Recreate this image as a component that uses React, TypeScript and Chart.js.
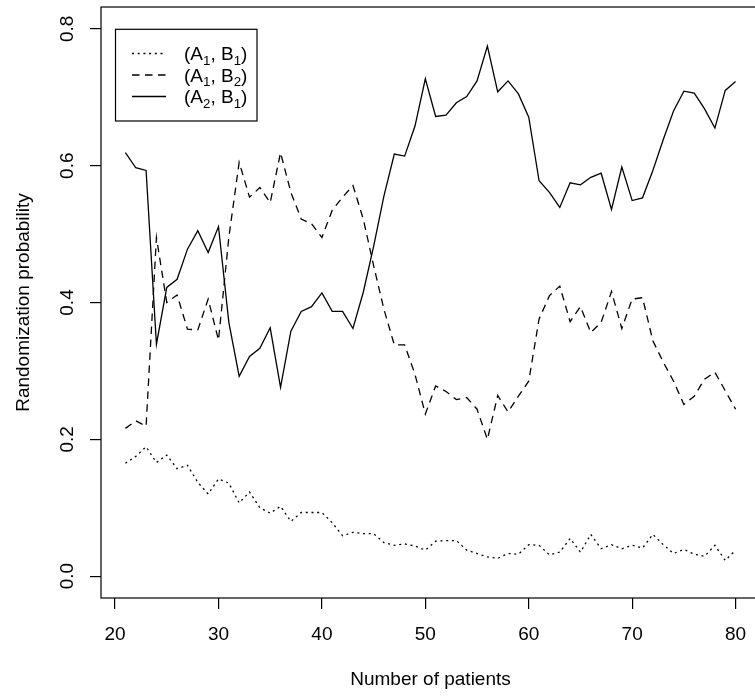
import React, { useEffect, useRef } from "react";
import { Chart, registerables } from "chart.js";

Chart.register(...registerables);

// ---------- data ----------
const patients = [
  21, 22, 23, 24, 25, 26, 27, 28, 29, 30,
  31, 32, 33, 34, 35, 36, 37, 38, 39, 40,
  41, 42, 43, 44, 45, 46, 47, 48, 49, 50,
  51, 52, 53, 54, 55, 56, 57, 58, 59, 60,
  61, 62, 63, 64, 65, 66, 67, 68, 69, 70,
  71, 72, 73, 74, 75, 76, 77, 78, 79, 80,
];

const probA1B1 = [
  0.165, 0.175, 0.189, 0.166, 0.177, 0.157, 0.162, 0.137, 0.120, 0.142,
  0.136, 0.107, 0.123, 0.100, 0.092, 0.102, 0.080, 0.093, 0.093, 0.093,
  0.078, 0.059, 0.064, 0.062, 0.062, 0.049, 0.045, 0.047, 0.044, 0.038,
  0.051, 0.052, 0.052, 0.038, 0.033, 0.028, 0.026, 0.033, 0.032, 0.046,
  0.045, 0.031, 0.035, 0.055, 0.035, 0.061, 0.040, 0.046, 0.040, 0.045,
  0.041, 0.061, 0.046, 0.033, 0.039, 0.032, 0.029, 0.045, 0.023, 0.038,
];

const probA1B2 = [
  0.216, 0.227, 0.219, 0.495, 0.400, 0.411, 0.361, 0.360, 0.405, 0.345,
  0.495, 0.605, 0.554, 0.568, 0.546, 0.619, 0.561, 0.522, 0.515, 0.495,
  0.535, 0.554, 0.571, 0.522, 0.454, 0.390, 0.338, 0.338, 0.295, 0.237,
  0.278, 0.270, 0.258, 0.261, 0.244, 0.200, 0.264, 0.240, 0.263, 0.285,
  0.376, 0.410, 0.424, 0.372, 0.394, 0.356, 0.371, 0.416, 0.362, 0.405,
  0.407, 0.344, 0.313, 0.285, 0.251, 0.263, 0.288, 0.298, 0.271, 0.244,
];

const probA2B1 = [
  0.619, 0.597, 0.593, 0.339, 0.422, 0.434, 0.478, 0.505, 0.473, 0.511,
  0.371, 0.292, 0.321, 0.333, 0.363, 0.276, 0.358, 0.387, 0.394, 0.414,
  0.387, 0.387, 0.362, 0.415, 0.482, 0.556, 0.617, 0.614, 0.658, 0.727,
  0.672, 0.674, 0.692, 0.701, 0.724, 0.775, 0.708, 0.724, 0.705, 0.671,
  0.578, 0.561, 0.539, 0.575, 0.572, 0.583, 0.589, 0.536, 0.598, 0.549,
  0.553, 0.593, 0.638, 0.680, 0.709, 0.706, 0.683, 0.655, 0.710, 0.723,
];

const xTicks = [20, 30, 40, 50, 60, 70, 80];
const yTicks = [0, 0.2, 0.4, 0.6, 0.8];

const seriesLabels = ["(A1, B1)", "(A1, B2)", "(A2, B1)"];
const legendA = ["1", "1", "2"];
const legendB = ["1", "2", "1"];

const xTitle = "Number of patients";
const yTitle = "Randomization probability";

const FONT = "'Liberation Sans', Arial, Helvetica, sans-serif";

function drawSubLabel(ctx: CanvasRenderingContext2D, x: number, y: number, a: string, b: string) {
  const main = `19px ${FONT}`;
  const sub = `13.3px ${FONT}`;
  const parts: [string, boolean][] = [
    ["(A", false],
    [a, true],
    [", B", false],
    [b, true],
    [")", false],
  ];
  let cx = x;
  for (const [t, isSub] of parts) {
    ctx.font = isSub ? sub : main;
    ctx.fillText(t, cx, isSub ? y + 4.5 : y);
    cx += ctx.measureText(t).width;
  }
}

const boxAndLegend = {
  id: "boxAndLegend",
  afterDraw(chart: any) {
    const ctx: CanvasRenderingContext2D = chart.ctx;
    const { left, top, right, bottom } = chart.chartArea;
    ctx.save();
    ctx.strokeStyle = "#000";
    ctx.lineWidth = 1.2;
    ctx.setLineDash([]);
    ctx.strokeRect(left, top, right - left, bottom - top);

    // legend box
    ctx.strokeRect(left + 14.5, top + 22.3, 141.5, 91.7);
    ctx.fillStyle = "#000";
    ctx.textAlign = "left";
    ctx.textBaseline = "alphabetic";
    chart.data.datasets.forEach((ds: any, i: number) => {
      const cy = top + 46.5 + i * 21.5;
      ctx.setLineDash(ds.borderDash || []);
      ctx.lineWidth = 1.3;
      ctx.beginPath();
      ctx.moveTo(left + 31, cy);
      ctx.lineTo(left + 65, cy);
      ctx.stroke();
      ctx.setLineDash([]);
      drawSubLabel(ctx, left + 83, cy + 6.5, legendA[i], legendB[i]);
    });
    ctx.restore();
  },
};

export default function App() {
  const ref = useRef<HTMLCanvasElement>(null);

  useEffect(() => {
    const canvas = ref.current;
    if (!canvas) return;
    Chart.defaults.font.family = FONT;
    Chart.defaults.color = "#000";

    const mk = (vals: number[]) => patients.map((p, i) => ({ x: p, y: vals[i] }));

    const chart = new Chart(canvas, {
      type: "line",
      data: {
        datasets: [
          {
            label: seriesLabels[0],
            data: mk(probA1B1),
            borderColor: "#000",
            borderWidth: 1.3,
            borderDash: [2, 3.7],
            pointRadius: 0,
            tension: 0,
            fill: false,
          },
          {
            label: seriesLabels[1],
            data: mk(probA1B2),
            borderColor: "#000",
            borderWidth: 1.3,
            borderDash: [7.5, 5.5],
            pointRadius: 0,
            tension: 0,
            fill: false,
          },
          {
            label: seriesLabels[2],
            data: mk(probA2B1),
            borderColor: "#000",
            borderWidth: 1.3,
            pointRadius: 0,
            tension: 0,
            fill: false,
          },
        ],
      },
      options: {
        animation: false,
        responsive: false,
        maintainAspectRatio: false,
        devicePixelRatio: 1,
        layout: { padding: { left: 0, top: 7, right: 15, bottom: 0 } },
        plugins: {
          legend: { display: false },
          tooltip: { enabled: false },
        },
        scales: {
          x: {
            type: "linear",
            min: 18.64,
            max: 82.36,
            afterBuildTicks: (s: any) => {
              s.ticks = xTicks.map((v) => ({ value: v }));
            },
            afterFit: (s: any) => {
              s.height = 98;
              s.paddingLeft = 0;
              s.paddingRight = 0;
              s.paddingTop = 0;
              s.paddingBottom = 0;
            },
            grid: {
              display: true,
              drawOnChartArea: false,
              drawTicks: true,
              tickLength: 11,
              color: "#000",
              tickColor: "#000",
              lineWidth: 1.2,
            },
            border: { display: false },
            ticks: {
              color: "#000",
              font: { size: 19, family: FONT },
              padding: 14.6,
              maxRotation: 0,
              minRotation: 0,
              autoSkip: false,
              callback: (v: any) => String(v),
            },
            title: {
              display: true,
              text: xTitle,
              color: "#000",
              font: { size: 19, family: FONT },
              padding: { top: 0, bottom: 4.6 },
            },
          },
          y: {
            type: "linear",
            min: -0.032,
            max: 0.832,
            afterBuildTicks: (s: any) => {
              s.ticks = yTicks.map((v) => ({ value: v }));
            },
            afterFit: (s: any) => {
              s.width = 101;
              s.paddingLeft = 0;
              s.paddingRight = 0;
              s.paddingTop = 0;
              s.paddingBottom = 0;
            },
            grid: {
              display: true,
              drawOnChartArea: false,
              drawTicks: true,
              tickLength: 11,
              color: "#000",
              tickColor: "#000",
              lineWidth: 1.2,
            },
            border: { display: false },
            ticks: {
              color: "#000",
              font: { size: 19, family: FONT },
              padding: 9.2,
              minRotation: 90,
              maxRotation: 90,
              crossAlign: "center",
              autoSkip: false,
              callback: (v: any) => Number(v).toFixed(1),
            },
            title: {
              display: true,
              text: yTitle,
              color: "#000",
              font: { size: 19, family: FONT },
              padding: { top: 12.2, bottom: 0 },
            },
          },
        },
      },
      plugins: [boxAndLegend],
    } as any);

    return () => chart.destroy();
  }, []);

  return (
    <div
      style={{
        position: "fixed",
        left: 0,
        top: 0,
        width: 755,
        height: 696,
        overflow: "hidden",
        background: "#fff",
      }}
    >
      <canvas ref={ref} width={775} height={696} style={{ display: "block", width: 775, height: 696 }} />
    </div>
  );
}
